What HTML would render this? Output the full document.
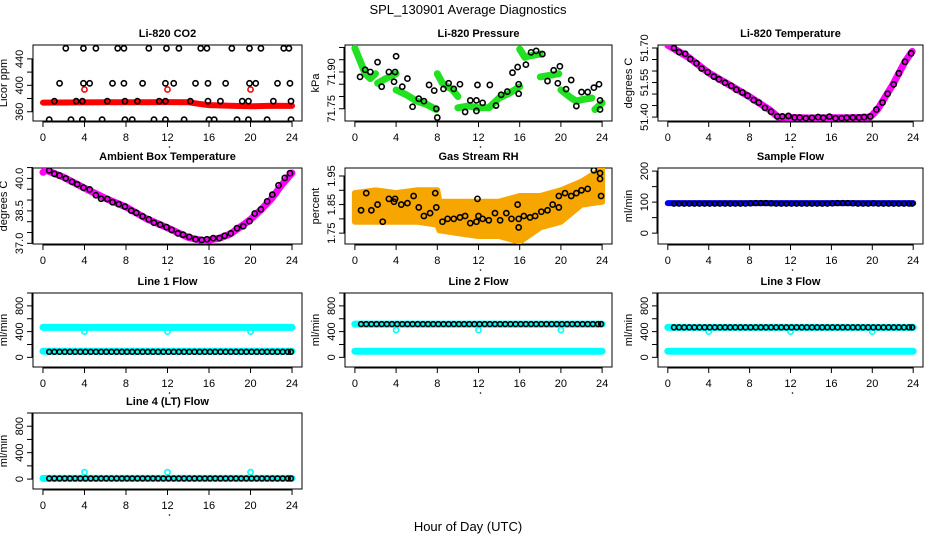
<!DOCTYPE html>
<html><head><meta charset="utf-8">
<style>
html,body{margin:0;padding:0;background:#fff;}
svg{display:block;font-family:"Liberation Sans",Arial,sans-serif;}
</style></head>
<body>
<svg id="fig" width="936" height="540" viewBox="0 0 936 540" xmlns="http://www.w3.org/2000/svg">
<rect width="936" height="540" fill="#fff"/>
<text x="468" y="14" text-anchor="middle" font-size="13">SPL_130901  Average Diagnostics</text>
<text x="468" y="531" text-anchor="middle" font-size="13">Hour of Day (UTC)</text>
</svg>
<script>
// ---------- shared data ----------
const hourTicks = [0,4,8,12,16,20,24];
const flowT = [0.6,1.1,1.6,2.1,2.6,3.1,3.6,4.1,4.6,5.1,5.6,6.1,6.6,7.1,7.6,8.1,8.6,9.1,9.6,10.1,10.6,11.1,11.6,12.1,12.6,13.1,13.6,14.1,14.6,15.1,15.6,16.1,16.6,17.1,17.6,18.1,18.6,19.1,19.6,20.1,20.6,21.1,21.6,22.1,22.6,23.1,23.6,23.9];
const bandT = [0,24];
const dipT = [4,12,20];

// CO2
const co2TopT = [2.2,3.9,5.1,7.2,7.8,10.2,11.9,13.1,15.2,15.8,18.2,19.9,21.0,23.2,23.7];
const co2Top = [456,456,456,456,456,456,456,456,456,456,456,456,456,456,456];
const co2MidT = [1.6,3.9,4.5,6.7,7.8,9.6,11.8,12.6,14.7,15.9,17.6,19.9,20.5,22.6,23.8];
const co2Mid = [403,403,403,403,403,403,403,403,403,403,403,403,403,403,403];
const co2LowT = [1.1,3.2,3.8,6.2,7.9,9.1,11.2,11.8,14.2,15.9,17.1,19.2,19.8,22.2,23.9];
const co2Low = [376,376,376,376,376,376,376,376,376,376,376,376,376,376,376];
const co2BotT = [0.6,2.7,3.8,5.7,7.9,8.6,10.7,11.8,13.6,16.0,16.5,18.7,19.8,21.6,23.9];
const co2Bot = [348,348,348,348,348,348,348,348,348,348,348,348,348,348,348];
const co2RedT = [0,2,4,6,8,10,12,14,15,16,18,20,22,24];
const co2Red = [373.8,374,374.2,374.3,374.3,374.5,374.6,374.4,372,370,369,368.3,369,368.8];
const co2RedOut = [393.7,393.7,393.7];

// Pressure
const presGreenT = [[0,0.5,1,1.5,2],[2.2,3,4],[4,5,6,7,7.9],[8,8.5,9.5,10],[10,11,12,13,14,15,16],[16,16.5,17,18],[18,19,19.8],[20,21,21.5,22,23],[23.3,24]];
const presGreen = [[71.997,71.946,71.893,71.873,71.893],[71.854,71.873,71.893],[71.827,71.807,71.781,71.767,71.747],[71.893,71.854,71.827,71.800],[71.754,71.761,71.754,71.754,71.794,71.814,71.840],[71.993,71.960,71.966,71.973],[71.880,71.887,71.893],[71.827,71.794,71.781,71.787,71.794],[71.747,71.774]];
const presBlackT = [0.5,1,1.5,2.2,2.6,3.3,3.8,3.9,4.0,4.6,5.1,5.6,6.2,6.7,7.2,7.7,7.9,8.0,8.6,9.1,9.6,10.2,10.7,11.2,11.8,11.8,11.9,12.4,13.1,13.7,14.2,14.8,15.3,15.8,15.9,15.9,16.6,17.1,17.6,18.2,18.7,19.3,19.7,19.9,20.5,21.0,21.5,22.0,22.6,23.2,23.7,23.8,23.8];
const presBlack = [71.880,71.909,71.900,71.940,71.840,71.900,71.860,71.900,71.964,71.840,71.873,71.758,71.791,71.781,71.847,71.824,71.750,71.714,71.831,71.854,71.831,71.850,71.737,71.784,71.741,71.784,71.847,71.774,71.847,71.763,71.807,71.820,71.897,71.920,71.850,71.811,71.930,71.980,71.986,71.973,71.863,71.907,71.854,71.923,71.830,71.867,71.761,71.818,71.818,71.836,71.850,71.784,71.747];

// Li-820 temperature
const ltT = [0.6,1.1,1.7,2.2,2.8,3.3,3.9,4.5,5.0,5.6,6.2,6.7,7.3,7.8,8.4,8.9,9.5,10.1,10.7,11.2,11.8,12.4,12.9,13.5,14.1,14.7,15.2,15.8,16.4,17.0,17.5,18.1,18.7,19.2,19.8,20.4,21.0,21.5,22.1,22.6,23.2,23.8];
const ltVal = [51.700,51.682,51.675,51.652,51.634,51.611,51.595,51.576,51.564,51.549,51.536,51.519,51.507,51.493,51.474,51.463,51.440,51.423,51.403,51.403,51.405,51.398,51.398,51.395,51.397,51.400,51.397,51.402,51.395,51.395,51.397,51.398,51.398,51.400,51.403,51.433,51.463,51.501,51.542,51.590,51.640,51.677];
const ltMagT = [0,2,4,6,8,10,10.8,12,14,16,18,19.8,20.5,22,23.2,23.9];
const ltMag = [51.712,51.660,51.592,51.540,51.488,51.430,51.400,51.398,51.396,51.397,51.397,51.400,51.432,51.540,51.640,51.685];

// Ambient
const ambT = [0.6,1.1,1.6,2.2,2.8,3.3,3.9,4.5,5.1,5.6,6.2,6.7,7.3,7.9,8.5,9.0,9.6,10.2,10.7,11.3,11.9,12.4,13.0,13.5,14.1,14.7,15.3,15.8,16.4,17.0,17.5,18.1,18.7,19.3,19.9,20.4,21.0,21.6,22.1,22.7,23.3,23.8];
const ambVal = [40.37,40.21,40.13,40.00,39.84,39.73,39.57,39.49,39.22,39.06,39.05,38.90,38.81,38.70,38.51,38.41,38.25,38.11,37.95,37.86,37.75,37.62,37.46,37.40,37.30,37.19,37.16,37.19,37.24,37.24,37.35,37.46,37.70,37.79,38.02,38.38,38.57,38.94,39.25,39.68,40.02,40.24];
const ambMagT = [0,0.3,2,4,6,8,10,12,14,15.5,16,17,18,19,20,21,22,23,24];
const ambMag = [40.28,40.38,40.05,39.55,39.08,38.68,38.13,37.72,37.27,37.12,37.15,37.24,37.42,37.75,38.10,38.55,39.05,39.70,40.25];

// Gas stream RH
const rhBandT = [0,2,4,6,8,8.2,10,12,14,16,18,20,22,24];
const rhUpper = [1.89,1.90,1.89,1.90,1.90,1.86,1.86,1.86,1.86,1.88,1.88,1.90,1.93,1.975];
const rhLower = [1.79,1.79,1.79,1.79,1.78,1.76,1.75,1.74,1.74,1.72,1.77,1.79,1.85,1.86];
const rhBlackT = [0.6,1.1,1.6,2.2,2.7,3.3,3.8,3.9,4.5,5.1,5.7,6.2,6.7,7.3,7.8,7.9,8.5,9.0,9.6,10.2,10.7,11.2,11.8,11.9,12.0,12.4,13.0,13.6,14.1,14.7,15.2,15.8,15.9,15.9,16.4,17.0,17.5,18.1,18.7,19.2,19.8,19.8,20.4,21.0,21.5,22.0,22.6,23.2,23.8,23.8,23.9];
const rhBlack = [1.83,1.89,1.83,1.85,1.79,1.87,1.86,1.87,1.85,1.855,1.88,1.84,1.81,1.82,1.89,1.84,1.79,1.80,1.80,1.805,1.81,1.785,1.79,1.87,1.81,1.80,1.795,1.82,1.795,1.82,1.80,1.85,1.80,1.77,1.81,1.805,1.81,1.825,1.83,1.85,1.88,1.84,1.89,1.88,1.89,1.90,1.905,1.97,1.96,1.94,1.88];

// Sample flow
const sampBlue = [97,97];
const sampBlack = [95,95,95,95,95,95,95,95,95,95,95,95,95,95,95,96,97,97,97,96,95,95,95,95,95,95,95,95,95,95,95,96,97,97,97,96,95,95,95,96,95,95,95,95,95,95,95,95];

// Line flows
const l1Cyan = [466,466];
const l1Dip = [400,400,400];
const l1CyanLow = [96,96];
const l1Black = [86,86,86,86,86,86,86,86,86,86,86,86,86,86,86,86,86,86,86,86,86,86,86,86,86,86,86,86,86,86,86,86,86,86,86,86,86,86,86,86,86,86,86,86,86,86,86,86];
const l2CyanLow = [96,96];
const l2Dip = [425,425,425];
const l2Black = [517,517,517,517,517,517,517,517,517,517,517,517,517,517,517,517,517,517,517,517,517,517,517,517,517,517,517,517,517,517,517,517,517,517,517,517,517,517,517,517,517,517,517,517,517,517,517,517];
const l3CyanLow = [96,96];
const l3Dip = [400,400,400];
const l3Black = [466,466,466,466,466,466,466,466,466,466,466,466,466,466,466,466,466,466,466,466,466,466,466,466,466,466,466,466,466,466,466,466,466,466,466,466,466,466,466,466,466,466,466,466,466,466,466,466];
const l4Cyan = [10,10];
const l4Bump = [105,105,105];
const l4Black = [10,10,10,10,10,10,10,10,10,10,10,10,10,10,10,10,10,10,10,10,10,10,10,10,10,10,10,10,10,10,10,10,10,10,10,10,10,10,10,10,10,10,10,10,10,10,10,10];

// ---------- drawing ----------
const NS = 'http://www.w3.org/2000/svg';
const svg = document.getElementById('fig');
function mk(tag, attrs, parent){
  const e = document.createElementNS(NS, tag);
  for (const k in attrs) e.setAttribute(k, attrs[k]);
  (parent||svg).appendChild(e);
  return e;
}
const cols = [{L:33,R:302},{L:345,R:612},{L:658,R:923}];
const rows = [{T:45,B:121},{T:168,B:244},{T:293,B:367},{T:413,B:489}];

function panel(col,row,title,ylab,ymin,ymax,ticks,labels,name){
  const c = cols[col], r = rows[row];
  const g = mk('g',{});
  
  
  const xs = t => c.L + (t + 0.96) / 25.92 * (c.R - c.L);
  const ys = v => r.B - (v - ymin) / (ymax - ymin) * (r.B - r.T);
  const box = mk('rect',{x:c.L,y:r.T,width:c.R-c.L,height:r.B-r.T,fill:'none',stroke:'#000','stroke-width':1},g);
  
  
  const tt = mk('text',{x:(c.L+c.R)/2,y:r.T-8,'text-anchor':'middle','font-size':11,'font-weight':'bold'},g);
  tt.textContent = title;
  
  
  const xa = mk('g',{},g);
  
  
  mk('line',{x1:xs(0),x2:xs(24),y1:r.B+1,y2:r.B+1,stroke:'#000'},xa);
  hourTicks.forEach(h=>{
    mk('line',{x1:xs(h),x2:xs(h),y1:r.B,y2:r.B+6,stroke:'#000'},xa);
    const t = mk('text',{x:xs(h),y:r.B+20,'text-anchor':'middle','font-size':11},xa);
    t.textContent = h;
    
    
  });
  mk('circle',{cx:(c.L+c.R)/2+2,cy:r.B+26,r:0.8,fill:'#000'},g);
  const ya = mk('g',{},g);
  
  
  mk('line',{x1:c.L-1,x2:c.L-1,y1:ys(ticks[0]),y2:ys(ticks[ticks.length-1]),stroke:'#000'},ya);
  ticks.forEach(v=>{
    mk('line',{x1:c.L-6,x2:c.L,y1:ys(v),y2:ys(v),stroke:'#000'},ya);
  });
  labels.forEach(s=>{
    const x = c.L-10, y = ys(parseFloat(s));
    const t = mk('text',{x:x,y:y,'text-anchor':'middle','font-size':11,transform:`rotate(-90 ${x} ${y})`},ya);
    t.textContent = s;
    
    
  });
  const yx = c.L-26, yy = (r.T+r.B)/2;
  const yl = mk('text',{x:yx,y:yy,'text-anchor':'middle','font-size':11,transform:`rotate(-90 ${yx} ${yy})`},g);
  yl.textContent = ylab;
  
  
  const clip = 'clip'+col+row;
  const cp = mk('clipPath',{id:clip},g);
  mk('rect',{x:c.L,y:r.T,width:c.R-c.L,height:r.B-r.T},cp);
  const plot = mk('g',{'clip-path':`url(#${clip})`},g);
  return {xs,ys,plot};
}
function pts(p,T,V,color,name,rad,sw){
  const g = mk('g',{},p.plot);
  
  
  T.forEach((t,i)=>{
    const c = mk('circle',{cx:p.xs(t),cy:p.ys(V[i]),r:rad||2.6,fill:'none',stroke:color,'stroke-width':sw||1.6},g);
    
    
  });
}
function band(p,T,V,color,w,name){
  const d = T.map((t,i)=>(i?'L':'M')+p.xs(t).toFixed(1)+' '+p.ys(V[i]).toFixed(1)).join(' ');
  const e = mk('path',{d:d,fill:'none',stroke:color,'stroke-width':w,'stroke-linecap':'round','stroke-linejoin':'round'},p.plot);
  
  
}
function area(p,T,U,Lo,color,name){
  let d = T.map((t,i)=>(i?'L':'M')+p.xs(t).toFixed(1)+' '+p.ys(U[i]).toFixed(1)).join(' ');
  for(let i=T.length-1;i>=0;i--) d += ' L'+p.xs(T[i]).toFixed(1)+' '+p.ys(Lo[i]).toFixed(1);
  const e = mk('path',{d:d+' Z',fill:color,stroke:color,'stroke-width':6,'stroke-linejoin':'round'},p.plot);
  
  
}

let p = panel(0,0,'Li-820 CO2','Licor ppm',346,461,[360,380,400,420,440],['360','400','440'],'panel-co2');
band(p,co2RedT,co2Red,'#ff0000',6,'co2-red-series');
pts(p,dipT,co2RedOut,'#ff0000','co2-red-outliers');
pts(p,co2TopT,co2Top,'#000','co2-black-top');
pts(p,co2MidT,co2Mid,'#000','co2-black-mid');
pts(p,co2LowT,co2Low,'#000','co2-black-low');
pts(p,co2BotT,co2Bot,'#000','co2-black-bottom');

p = panel(1,0,'Li-820 Pressure','kPa',71.70,72.01,[71.75,71.80,71.85,71.90,71.95,72.00],['71.75','71.90'],'panel-pressure');
presGreenT.forEach((T,i)=>band(p,T,presGreen[i],'#22e022',7,'pressure-green-series'));
pts(p,presBlackT,presBlack,'#000','pressure-black-series');

p = panel(2,0,'Li-820 Temperature','degrees C',51.383,51.713,[51.40,51.45,51.50,51.55,51.60,51.65,51.70],['51.40','51.55','51.70'],'panel-li820-temp');
band(p,ltMagT,ltMag,'#ff00ff',7,'li820-temp-magenta');
pts(p,ltT,ltVal,'#000','li820-temp-black');

p = panel(0,1,'Ambient Box Temperature','degrees C',36.97,40.48,[37.0,37.5,38.0,38.5,39.0,39.5,40.0,40.5],['37.0','38.5','40.0'],'panel-ambient-temp');
band(p,ambMagT,ambMag,'#ff00ff',7,'ambient-magenta');
pts(p,ambT,ambVal,'#000','ambient-black');

p = panel(1,1,'Gas Stream RH','percent',1.712,1.978,[1.75,1.80,1.85,1.90,1.95],['1.75','1.85','1.95'],'panel-rh');
area(p,rhBandT,rhUpper,rhLower,'#f7a600','rh-orange-band');
pts(p,rhBlackT,rhBlack,'#000','rh-black-series');

p = panel(2,1,'Sample Flow','ml/min',-35,210,[0,50,100,150,200],['0','100','200'],'panel-sample-flow');
band(p,bandT,sampBlue,'#0000ff',6,'sample-flow-blue');
pts(p,flowT,sampBlack,'#000','sample-flow-black',2.4);

const fT=[0,200,400,600,800,1000], fL=['0','400','800'];
p = panel(0,2,'Line 1 Flow','ml/min',-150,1000,fT,fL,'panel-line1-flow');
band(p,bandT,l1Cyan,'#00ffff',7,'line1-cyan-high');
pts(p,dipT,l1Dip,'#00ffff','line1-cyan-dips');
band(p,bandT,l1CyanLow,'#00ffff',7,'line1-cyan-low');
pts(p,flowT,l1Black,'#000','line1-black',2.4);

p = panel(1,2,'Line 2 Flow','ml/min',-150,1000,fT,fL,'panel-line2-flow');
band(p,bandT,l2CyanLow,'#00ffff',7,'line2-cyan-low');
pts(p,dipT,l2Dip,'#00ffff','line2-cyan-dips');
band(p,bandT,[517,517],'#00ffff',7,'line2-cyan-high');
pts(p,flowT,l2Black,'#000','line2-black',2.4);

p = panel(2,2,'Line 3 Flow','ml/min',-150,1000,fT,fL,'panel-line3-flow');
band(p,bandT,l3CyanLow,'#00ffff',7,'line3-cyan-low');
pts(p,dipT,l3Dip,'#00ffff','line3-cyan-dips');
band(p,bandT,[466,466],'#00ffff',7,'line3-cyan-high');
pts(p,flowT,l3Black,'#000','line3-black',2.4);

p = panel(0,3,'Line 4 (LT) Flow','ml/min',-150,1000,fT,fL,'panel-line4-flow');
band(p,bandT,l4Cyan,'#00ffff',7,'line4-cyan');
pts(p,dipT,l4Bump,'#00ffff','line4-cyan-bumps');
pts(p,flowT,l4Black,'#000','line4-black',2.4);
</script>
</body></html>
